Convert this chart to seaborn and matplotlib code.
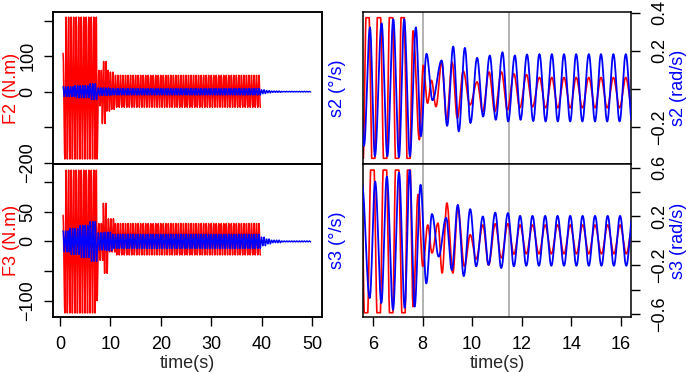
import numpy as np
import pandas as pd
import matplotlib
matplotlib.use("Agg")
import matplotlib.pyplot as plt
import seaborn as sns

# ---------------------------------------------------------------
# Data
# ---------------------------------------------------------------
# Left panels (0-50 s): ~2 Hz oscillation, peak values per time segment
HALF_PERIOD = 0.25

f2_seg_start = [0.60, 0.95, 7.35, 7.70, 8.40, 9.30, 10.0, 11.0]
f2_seg_end   = [0.95, 7.35, 7.70, 8.40, 9.30, 10.0, 11.0, 40.0]
f2_seg_hi    = [108, 210, 150, 60, 85, 60, 55, 46]
f2_seg_lo    = [-70, -190, -190, -40, -90, -55, -50, -44]

f3_seg_start = [0.60, 0.95, 7.35, 7.70, 8.60, 9.60, 11.0]
f3_seg_end   = [0.95, 7.35, 7.70, 8.60, 9.60, 11.0, 40.0]
f3_seg_hi    = [44, 120, 100, 30, 64, 38, 30]
f3_seg_lo    = [-60, -121, -100, -32, -54, -18, -23]

s2deg_seg_start = [0.6, 3.0, 6.0, 7.6, 10.0, 40.0, 41.0, 42.0, 44.0]
s2deg_seg_end   = [3.0, 6.0, 7.6, 10.0, 40.0, 41.0, 42.0, 44.0, 50.0]
s2deg_seg_amp   = [15.6, 19.0, 25.0, 12.0, 10.3, 6.0, 3.5, 2.0, 1.0]

s3deg_seg_start = [0.6, 2.0, 4.0, 6.0, 7.6, 9.0, 10.5, 40.0, 41.0, 42.0, 44.0]
s3deg_seg_end   = [2.0, 4.0, 6.0, 7.6, 9.0, 10.5, 40.0, 41.0, 42.0, 44.0, 50.0]
s3deg_seg_amp   = [17.0, 21.0, 26.0, 32.0, 14.0, 15.0, 11.5, 7.0, 4.0, 2.0, 0.8]

# Right panels (zoom 6-16 s): successive extrema (time, value) in rad/s
s2_blue_t = [5.40, 5.64, 5.88, 6.08, 6.35, 6.58, 6.82, 7.05, 7.26, 7.49, 7.73, 7.93,
             8.16, 8.40, 8.77, 8.99, 9.235, 9.46, 9.705, 9.93, 10.20, 10.44, 10.71,
             10.95, 11.22, 11.45, 11.72, 11.95, 12.21, 12.46, 12.71, 12.96, 13.21,
             13.45, 13.70, 13.95, 14.19, 14.44, 14.70, 14.95, 15.19, 15.44, 15.69,
             15.94, 16.19, 16.44, 16.69]
s2_blue_v = [0.30, -0.30, 0.324, -0.355, 0.345, -0.355, 0.367, -0.36, 0.367, -0.355,
             0.324, -0.25, 0.185, -0.06, 0.15, -0.195, 0.223, -0.224, 0.216, -0.18,
             0.164, -0.146, 0.176, -0.163, 0.193, -0.172, 0.176, -0.163, 0.181, -0.17,
             0.183, -0.172, 0.183, -0.172, 0.183, -0.172, 0.183, -0.172, 0.183, -0.172,
             0.183, -0.172, 0.183, -0.172, 0.183, -0.172, 0.183]

s2_red_t = [5.55, 5.785, 6.015, 6.24, 6.495, 6.725, 6.975, 7.195, 7.44, 7.62, 7.87,
            8.03, 8.20, 8.36, 8.54, 8.77, 8.97, 9.19, 9.40, 9.64, 9.91, 10.20, 10.42,
            10.68, 10.91, 11.18, 11.42, 11.68, 11.92, 12.19, 12.43, 12.71, 12.96,
            13.21, 13.45, 13.70, 13.95, 14.19, 14.44, 14.70, 14.95, 15.19, 15.44,
            15.69, 15.94, 16.19, 16.44, 16.69]
s2_red_v = [-0.65, 0.67, -0.65, 0.67, -0.65, 0.67, -0.65, 0.67, -0.65, 0.306, -0.268,
            0.124, -0.076, 0.045, -0.094, 0.141, -0.163, 0.141, -0.155, 0.094, -0.085,
            0.037, -0.12, 0.089, -0.12, 0.089, -0.111, 0.08, -0.10, 0.075, -0.095,
            0.06, -0.10, 0.06, -0.10, 0.06, -0.10, 0.06, -0.10, 0.06, -0.10, 0.06,
            -0.10, 0.06, -0.10, 0.06, -0.10, 0.06]
s2_red_sat = (-0.366, 0.375)

s3_blue_t = [5.55, 5.87, 6.09, 6.34, 6.56, 6.81, 7.05, 7.28, 7.48, 7.68, 7.92, 8.15,
             8.38, 8.65, 8.95, 9.18, 9.42, 9.66, 9.92, 10.16, 10.43, 10.66, 10.93,
             11.17, 11.44, 11.68, 11.93, 12.18, 12.43, 12.69, 12.94, 13.19, 13.44,
             13.70, 13.95, 14.20, 14.45, 14.70, 14.95, 15.21, 15.46, 15.71, 15.96,
             16.21, 16.47, 16.72]
s3_blue_v = [0.48, -0.47, 0.486, -0.51, 0.527, -0.566, 0.56, -0.55, 0.58, -0.54, 0.46,
             -0.35, 0.22, -0.13, 0.19, -0.24, 0.295, -0.29, 0.26, -0.21, 0.20, -0.197,
             0.232, -0.224, 0.228, -0.21, 0.205, -0.205, 0.205, -0.205, 0.205, -0.205,
             0.205, -0.205, 0.205, -0.205, 0.205, -0.205, 0.205, -0.205, 0.205, -0.205,
             0.205, -0.205, 0.205, -0.205]

s3_red_t = [5.47, 5.72, 5.98, 6.23, 6.48, 6.74, 6.97, 7.24, 7.45, 7.62, 7.82, 8.01,
            8.21, 8.38, 8.62, 8.79, 8.98, 9.22, 9.42, 9.69, 9.92, 10.16, 10.43, 10.66,
            10.93, 11.17, 11.44, 11.68, 11.93, 12.18, 12.43, 12.69, 12.94, 13.19,
            13.44, 13.70, 13.95, 14.20, 14.45, 14.70, 14.95, 15.21, 15.46, 15.71,
            15.96, 16.21, 16.47, 16.72]
s3_red_v = [1.04, -1.05, 1.04, -1.05, 1.04, -1.05, 1.04, -1.05, 1.04, -0.54, 0.38,
            -0.21, 0.13, -0.10, 0.145, -0.265, 0.31, -0.265, 0.27, -0.21, 0.05, -0.15,
            0.13, -0.20, 0.14, -0.14, 0.14, -0.11, 0.13, -0.107, 0.13, -0.107, 0.13,
            -0.107, 0.13, -0.107, 0.13, -0.107, 0.13, -0.107, 0.13, -0.107, 0.13,
            -0.107, 0.13, -0.107, 0.13, -0.107]
s3_red_sat = (-0.59, 0.58)

ref_lines = [8.0, 11.5]

left_xticks = [0, 10, 20, 30, 40, 50]
right_xticks = [6, 8, 10, 12, 14, 16]
f2_yticks = [-200, -100, 0, 100, 200]
f2_yticklabels = ["\u2212200", "", "0", "100", ""]
f3_yticks = [-100, -50, 0, 50, 100]
f3_yticklabels = ["\u2212100", "", "0", "50", ""]
s2_yticks = [-0.2, 0.0, 0.2, 0.4]
s2_yticklabels = ["\u22120.2", "", "0.2", "0.4"]
s3_yticks = [-0.6, -0.4, -0.2, 0.0, 0.2, 0.4, 0.6]
s3_yticklabels = ["\u22120.6", "", "\u22120.2", "", "0.2", "", "0.6"]


# ---------------------------------------------------------------
def segment_extrema(starts, ends, his, los, half):
    t, v, k = [], [], 0
    for s, e, h, l in zip(starts, ends, his, los):
        n = max(1, int(round((e - s) / half)))
        for j in range(n):
            t.append(s + j * half)
            v.append(h if k % 2 == 0 else l)
            k += 1
    return t, v


def half_cos_path(t_ext, v_ext, n=10):
    t_ext = np.asarray(t_ext, float)
    v_ext = np.asarray(v_ext, float)
    s = np.linspace(0, 1, n, endpoint=False)
    w = (1 - np.cos(np.pi * s)) / 2
    tt = (t_ext[:-1, None] + np.diff(t_ext)[:, None] * s).ravel()
    vv = (v_ext[:-1, None] + np.diff(v_ext)[:, None] * w).ravel()
    return np.append(tt, t_ext[-1]), np.append(vv, v_ext[-1])


def frame(t, v):
    return pd.DataFrame({"t": t, "v": v})


sns.set_style("ticks")
plt.rcParams["font.family"] = ["Liberation Sans", "DejaVu Sans"]
plt.rcParams["axes.edgecolor"] = "black"
plt.rcParams["xtick.color"] = "black"
plt.rcParams["ytick.color"] = "black"
plt.rcParams["axes.unicode_minus"] = True

W, H = 686, 373
fig = plt.figure(figsize=(W / 100, H / 100), dpi=100)


def px_axes(x0, y0, x1, y1):
    return fig.add_axes([x0 / W, 1 - y1 / H, (x1 - x0) / W, (y1 - y0) / H])


ax_f2 = px_axes(53, 12, 322, 164)
ax_f3 = px_axes(53, 164, 322, 317)
ax_s2 = px_axes(363, 12, 631, 164)
ax_s3 = px_axes(363, 164, 631, 317)

FS = 13
RED, BLUE, GREY = "#ff0000", "#0000ff", "#9e9e9e"
TICK_LEN = 6.5
XLAB_Y = (317 - 364) / 153

# ---------------- left panels ----------------
left_specs = [
    (ax_f2, (f2_seg_start, f2_seg_end, f2_seg_hi, f2_seg_lo),
     (s2deg_seg_start, s2deg_seg_end, s2deg_seg_amp),
     (-204, 224.5), (-226, 249), f2_yticks, f2_yticklabels, "F2 (N.m)", "s2 (\u00b0/s)", False),
    (ax_f3, (f3_seg_start, f3_seg_end, f3_seg_hi, f3_seg_lo),
     (s3deg_seg_start, s3deg_seg_end, s3deg_seg_amp),
     (-127.7, 130.4), (-122, 125), f3_yticks, f3_yticklabels, "F3 (N.m)", "s3 (\u00b0/s)", True),
]
for (ax, fseg, sseg, ylim, tylim, yt, ytl, flab, slab, bottom) in left_specs:
    te, ve = segment_extrema(*fseg, HALF_PERIOD)
    t, v = half_cos_path(te, ve, n=6)
    sns.lineplot(data=frame(t, v), x="t", y="v", ax=ax, color=RED, lw=1.1,
                 estimator=None, sort=False)
    ax.set_xlim(-1.4, 52)
    ax.set_ylim(*ylim)
    ax.set_yticks(yt)
    ax.set_yticklabels(ytl)
    ax.tick_params(axis="y", direction="out", length=TICK_LEN, width=1.0, pad=5.5,
                   labelsize=FS)
    for tk in ax.yaxis.get_major_ticks():
        tk.label1.set_rotation(90)
        tk.label1.set_va("center")
        tk.label1.set_ha("right")
    ax.set_ylabel(flab, color=RED, fontsize=FS, va="center", ha="center")
    ax.yaxis.set_label_coords((12 - 53) / 269, 0.5)
    if bottom:
        ax.set_xticks(left_xticks)
        ax.set_xticklabels([str(x) for x in left_xticks])
        ax.tick_params(axis="x", direction="out", length=TICK_LEN, width=1.0, pad=7.5,
                       labelsize=FS)
        ax.set_xlabel("time(s)", fontsize=FS, va="center")
        ax.xaxis.set_label_coords(0.5, XLAB_Y)
    else:
        ax.tick_params(axis="x", bottom=False, labelbottom=False)
        ax.set_xlabel("")

    tw = ax.twinx()
    amp_s, amp_e, amp = sseg
    te2, ve2 = segment_extrema(amp_s, amp_e, amp, [-a for a in amp], HALF_PERIOD)
    t2, v2 = half_cos_path(te2, ve2, n=6)
    sns.lineplot(data=frame(t2, v2), x="t", y="v", ax=tw, color=BLUE, lw=1.0,
                 estimator=None, sort=False)
    tw.set_ylim(*tylim)
    tw.set_yticks([])
    tw.set_xlim(-1.4, 52)
    tw.set_ylabel(slab, color=BLUE, fontsize=FS, va="center", ha="center", rotation=90)
    tw.yaxis.set_label_coords((338 - 53) / 269, 0.5)
    for a in (ax, tw):
        for sp in a.spines.values():
            sp.set_linewidth(1.1)
            sp.set_color("black")

# ---------------- right panels ----------------
right_specs = [
    (ax_s2, s2_red_t, s2_red_v, s2_red_sat, s2_blue_t, s2_blue_v, (-0.396, 0.405),
     s2_yticks, s2_yticklabels, "s2 (rad/s)", False),
    (ax_s3, s3_red_t, s3_red_v, s3_red_sat, s3_blue_t, s3_blue_v, (-0.625, 0.63),
     s3_yticks, s3_yticklabels, "s3 (rad/s)", True),
]
for (ax, rt, rv, sat, bt, bv, ylim, yt, ytl, lab, bottom) in right_specs:
    for xv in ref_lines:
        ax.axvline(xv, color=GREY, lw=1.1, zorder=1)
    t, v = half_cos_path(rt, rv, n=14)
    v = np.clip(v, sat[0], sat[1])
    sns.lineplot(data=frame(t, v), x="t", y="v", ax=ax, color=RED, lw=1.2,
                 estimator=None, sort=False, zorder=2)
    t, v = half_cos_path(bt, bv, n=14)
    sns.lineplot(data=frame(t, v), x="t", y="v", ax=ax, color=BLUE, lw=1.3,
                 estimator=None, sort=False, zorder=3)
    ax.set_xlim(5.6, 16.4)
    ax.set_ylim(*ylim)
    ax.set_yticks(yt)
    ax.set_yticklabels(ytl)
    ax.tick_params(axis="y", left=False, labelleft=False, right=True, labelright=True,
                   direction="out", length=TICK_LEN, width=1.0, pad=8.3, labelsize=FS)
    for tk in ax.yaxis.get_major_ticks():
        tk.label2.set_rotation(90)
        tk.label2.set_va("center")
        tk.label2.set_ha("left")
    ax.yaxis.set_label_position("right")
    ax.set_ylabel(lab, color=BLUE, fontsize=FS, va="center", ha="center", rotation=90)
    ax.yaxis.set_label_coords((678.5 - 363) / 268, 0.5)
    if bottom:
        ax.set_xticks(right_xticks)
        ax.set_xticklabels([str(x) for x in right_xticks])
        ax.tick_params(axis="x", direction="out", length=TICK_LEN, width=1.0, pad=7.5,
                       labelsize=FS)
        ax.set_xlabel("time(s)", fontsize=FS, va="center")
        ax.xaxis.set_label_coords(0.5, XLAB_Y)
    else:
        ax.tick_params(axis="x", bottom=False, labelbottom=False)
        ax.set_xlabel("")
    for sp in ax.spines.values():
        sp.set_linewidth(1.1)
        sp.set_color("black")

fig.savefig("out.png", dpi=100)
